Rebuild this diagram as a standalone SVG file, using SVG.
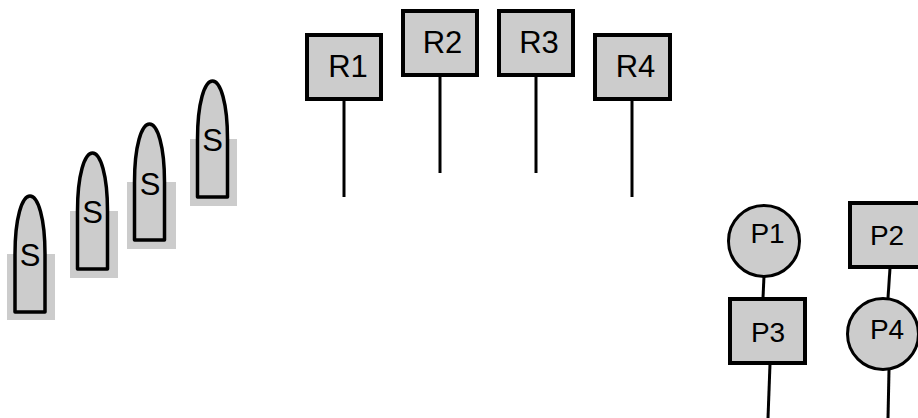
<svg xmlns="http://www.w3.org/2000/svg" xmlns:xlink="http://www.w3.org/1999/xlink" width="918" height="418" viewBox="0 0 918 418">
<style>
.box{fill:#cccccc;stroke:#000;stroke-width:4}
.circ{fill:#cccccc;stroke:#000;stroke-width:3}
.bul{fill:#cccccc;stroke:#000;stroke-width:3.5;stroke-linejoin:round}
.bg{fill:#cccccc}
.ln{stroke:#000;stroke-width:3;fill:none}
.t{font-family:"Liberation Sans",Arial,sans-serif;font-size:31px;fill:#000;text-anchor:middle}
.tp{font-family:"Liberation Sans",Arial,sans-serif;font-size:28px;fill:#000;text-anchor:middle}
</style>
<defs>
<path id="bullet" d="M0,116 L0,58 C0,22 7,0 15,0 C23,0 30,22 30,58 L30,116 Z"/>
</defs>
<rect width="918" height="418" fill="#fff"/>
<g id="connectors">
<line class="ln" x1="344" y1="101" x2="344" y2="197"/>
<line class="ln" x1="440" y1="77" x2="440" y2="173"/>
<line class="ln" x1="536" y1="77" x2="536" y2="173"/>
<line class="ln" x1="632" y1="101" x2="632" y2="197"/>
<line class="ln" x1="764" y1="276" x2="763" y2="298"/>
<line class="ln" x1="770" y1="364" x2="768" y2="418"/>
<line class="ln" x1="890" y1="268" x2="888" y2="298"/>
<line class="ln" x1="889" y1="370" x2="888" y2="418"/>
</g>
<g id="S1">
<rect class="bg" x="7" y="254" width="48" height="66"/>
<use xlink:href="#bullet" class="bul" transform="translate(15,196)"/>
<text class="t" x="30" y="266">S</text>
</g>
<g id="S2">
<rect class="bg" x="70" y="211" width="48" height="67"/>
<use xlink:href="#bullet" class="bul" transform="translate(77.5,153)"/>
<text class="t" x="92.5" y="223">S</text>
</g>
<g id="S3">
<rect class="bg" x="127" y="182" width="49" height="67"/>
<use xlink:href="#bullet" class="bul" transform="translate(134.5,124)"/>
<text class="t" x="150" y="195">S</text>
</g>
<g id="S4">
<rect class="bg" x="190" y="139" width="47" height="67"/>
<use xlink:href="#bullet" class="bul" transform="translate(197.5,81)"/>
<text class="t" x="212.5" y="151">S</text>
</g>
<g id="R1">
<rect class="box" x="307" y="35" width="74" height="64"/>
<text class="t" x="348" y="77">R1</text>
</g>
<g id="R2">
<rect class="box" x="403" y="11" width="74" height="64"/>
<text class="t" x="442.5" y="53">R2</text>
</g>
<g id="R3">
<rect class="box" x="499" y="11" width="74" height="64"/>
<text class="t" x="539" y="53">R3</text>
</g>
<g id="R4">
<rect class="box" x="595" y="35" width="75" height="64"/>
<text class="t" x="635.5" y="77">R4</text>
</g>
<g id="P1">
<circle class="circ" cx="764" cy="241" r="35.5"/>
<text class="tp" x="767.5" y="243">P1</text>
</g>
<g id="P2">
<rect class="box" x="850" y="203" width="74" height="64"/>
<text class="tp" x="887" y="245">P2</text>
</g>
<g id="P3">
<rect class="box" x="730" y="299" width="75" height="64"/>
<text class="tp" x="768" y="342">P3</text>
</g>
<g id="P4">
<circle class="circ" cx="883" cy="334" r="35.5"/>
<text class="tp" x="887" y="339">P4</text>
</g>
</svg>
